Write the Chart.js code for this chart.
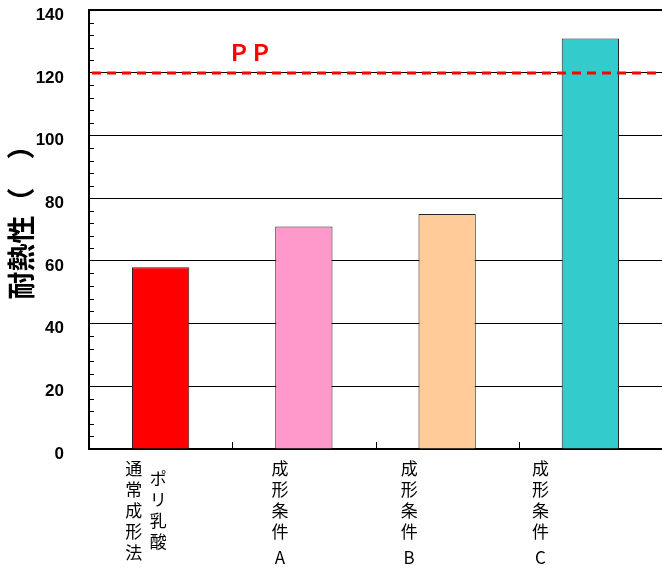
<!DOCTYPE html>
<html lang="ja">
<head>
<meta charset="utf-8">
<script src="https://cdn.jsdelivr.net/npm/chart.js@4.4.1/dist/chart.umd.min.js"></script>
<style>
    html, body { margin: 0; padding: 0; background: #fff; }
</style>
</head>
<body>
<canvas id="graficaCalor" width="662" height="569"></canvas>
<script>
// Datos de la gráfica
const categories = ['ポリ乳酸通常成形法', '成形条件A', '成形条件B', '成形条件C'];
// etiquetas verticales, columnas de izquierda a derecha
const labelColumns = [['通常成形法', 'ポリ乳酸'], ['成形条件A'], ['成形条件B'], ['成形条件C']];
const heatValues = [58, 71, 75, 131];
const barColors = ['#ff0000', '#ff99cc', '#ffcc99', '#33cccc'];
const ppValue = 120;
const ppLabel = 'ＰＰ';
const yTitle = '　耐熱性（　）';
const yMin = 0, yMax = 140, yStep = 20, yMinorStep = 4;

// posición de las columnas de texto respecto al centro de cada categoría
const labelOffsets = [[-27, -2.5], [-24], [-38], [-50]];
const columnDrops = [[0, 9.5], [0], [0], [0]];

const decoraciones = {
    id: 'decoraciones',
    afterDatasetsDraw(chart) {
        const { ctx, chartArea: area, scales: { x, y } } = chart;
        ctx.save();

        // marcas menores del eje Y y marcas entre categorías (hacia dentro)
        ctx.strokeStyle = '#000';
        ctx.lineWidth = 1;
        ctx.beginPath();
        for (let v = yMin + yMinorStep; v < yMax; v += yMinorStep) {
            if (v % yStep === 0) continue;
            const py = Math.round(y.getPixelForValue(v)) + 0.5;
            ctx.moveTo(area.left, py);
            ctx.lineTo(area.left + 5, py);
        }
        for (let i = 0; i < categories.length - 1; i++) {
            const px = Math.round((x.getPixelForValue(i) + x.getPixelForValue(i + 1)) / 2) + 0.5;
            ctx.moveTo(px, area.bottom);
            ctx.lineTo(px, area.bottom - 7);
        }
        ctx.stroke();

        // línea PP
        const yPP = y.getPixelForValue(ppValue);
        ctx.strokeStyle = '#ff0000';
        ctx.lineWidth = 3;
        ctx.setLineDash([9, 6]);
        ctx.beginPath();
        ctx.moveTo(area.left + 3, yPP);
        ctx.lineTo(area.right, yPP);
        ctx.stroke();
        ctx.setLineDash([]);

        ctx.fillStyle = '#ff0000';
        ctx.font = 'bold 22px "Noto Sans CJK JP"';
        ctx.textAlign = 'left';
        ctx.textBaseline = 'alphabetic';
        ctx.fillText(ppLabel, area.left + 139, yPP - 12);

        // etiquetas del eje X en vertical
        ctx.fillStyle = '#000';
        ctx.font = '17px "Noto Sans CJK JP"';
        ctx.textAlign = 'center';
        ctx.textBaseline = 'middle';
        labelColumns.forEach((cols, i) => {
            const cx = x.getPixelForValue(i);
            cols.forEach((col, c) => {
                const px = cx + labelOffsets[i][c];
                let py = area.bottom + 20 + columnDrops[i][c];
                for (const ch of col) {
                    if (/[A-Za-z]/.test(ch)) py += 5;
                    ctx.fillText(ch, px, py);
                    py += 21;
                }
            });
        });

        ctx.restore();
    }
};

new Chart(document.getElementById('graficaCalor'), {
    type: 'bar',
    data: {
        labels: categories,
        datasets: [{
            data: heatValues,
            backgroundColor: barColors,
            borderColor: '#222',
            borderWidth: 1,
            barPercentage: 0.4,
            categoryPercentage: 1
        }]
    },
    options: {
        responsive: false,
        animation: false,
        layout: { padding: { top: 10, right: 0, bottom: 0, left: 0 } },
        plugins: {
            legend: { display: false },
            tooltip: { enabled: false }
        },
        scales: {
            x: {
                grid: { display: false },
                ticks: { display: false },
                border: { display: true, color: '#000', width: 2 },
                afterFit: s => { s.height = 120; }
            },
            y: {
                min: yMin,
                max: yMax,
                ticks: {
                    stepSize: yStep,
                    color: '#000',
                    padding: 0,
                    labelOffset: 5,
                    font: { family: '"Liberation Sans", Arial, sans-serif', size: 17, weight: 'bold' }
                },
                grid: {
                    color: '#000',
                    lineWidth: c => (c.tick && c.tick.value === yMax) ? 2 : 1,
                    drawTicks: true,
                    tickLength: 25,
                    tickColor: 'rgba(0,0,0,0)'
                },
                border: { display: true, color: '#000', width: 2 },
                title: {
                    display: true,
                    text: yTitle,
                    color: '#000',
                    font: { family: '"Noto Sans CJK JP"', size: 28, weight: 'bold', lineHeight: 1 },
                    padding: { top: 7, bottom: 0 }
                },
                afterFit: s => { s.width = 89; }
            }
        }
    },
    plugins: [decoraciones]
});
</script>
</body>
</html>
